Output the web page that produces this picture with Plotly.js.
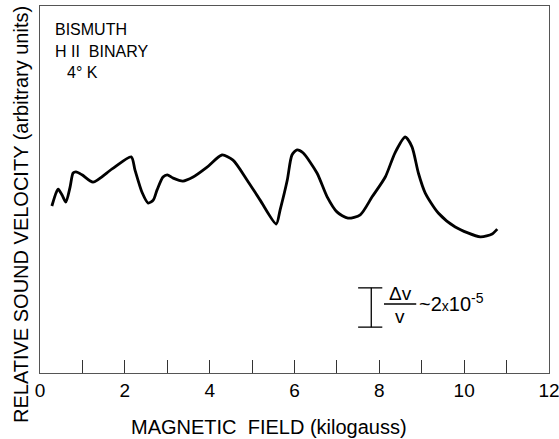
<!DOCTYPE html>
<html>
<head>
<meta charset="utf-8">
<script src="https://cdn.plot.ly/plotly-3.0.1.min.js"></script>
<style>html,body{margin:0;padding:0;background:#fff;}#chart{width:559px;height:439px;}</style>
</head>
<body>
<div id="chart"></div>
<script>
// Magnetic field (kilogauss)
const fieldKG = [0.28,0.38,0.43,0.52,0.61,0.71,0.78,0.85,0.99,1.25,1.70,2.15,2.24,2.41,2.55,2.67,2.76,2.90,3.00,3.14,3.37,3.61,3.94,4.29,4.55,4.88,5.19,5.57,5.66,5.83,5.94,6.06,6.20,6.53,6.77,7.00,7.26,7.55,7.83,8.14,8.37,8.61,8.77,8.92,9.08,9.39,9.79,10.38,10.66,10.78];
// Relative sound velocity (arbitrary units)
const velocity = [45.5,49.1,50.1,48.5,46.6,50.7,54.5,54.8,54.0,52.0,55.6,58.9,55.3,49.1,46.3,47.1,49.9,53.4,54.0,53.1,52.3,53.4,56.1,59.4,58.0,52.6,47.1,40.6,44.4,52.6,59.4,60.8,60.0,54.5,48.0,43.9,42.2,43.1,48.0,53.4,60.0,64.3,61.6,54.5,49.1,43.6,39.8,37.1,37.9,39.2];
const tickValues = [0,2,4,6,8,10,12];
const tickLabels = ['0','2','4','6','8','10','12'];

const F = 'Liberation Sans, Arial, sans-serif';
const trace = {
  x: fieldKG, y: velocity, type: 'scatter', mode: 'lines',
  line: {color: '#000', width: 2.8, shape: 'spline', smoothing: 0.7},
  hoverinfo: 'skip', showlegend: false
};
// paper-position helper (pixel -> paper fraction of the plot area)
const px = v => (v - 40) / 509;
const py = v => (373 - v) / 367;
const txt = (t, x, y, xa, size, angle) => ({text: t, x: px(x), y: py(y), xref: 'paper', yref: 'paper', xanchor: xa || 'left', yanchor: 'middle', showarrow: false, textangle: angle || 0, font: {family: F, size: size || 16, color: '#000'}});
const layout = {
  width: 559, height: 439,
  margin: {l: 40, r: 10, t: 6, b: 66},
  paper_bgcolor: '#fff', plot_bgcolor: '#fff',
  xaxis: {
    range: [0, 12], tickmode: 'array', tickvals: tickValues, ticktext: tickLabels,
    ticks: 'inside', ticklen: 13, tickwidth: 1, tickcolor: '#333',
    minor: {dtick: 1, tick0: 0, ticks: 'inside', ticklen: 13, tickwidth: 1, tickcolor: '#333', showgrid: false},
    ticklabeloverflow: 'allow',
    showline: true, linecolor: '#555', linewidth: 1, mirror: true,
    showgrid: false, zeroline: false,
    tickfont: {family: F, size: 19, color: '#000'}
  },
  yaxis: {
    range: [0, 100], showticklabels: false, ticks: '',
    showline: true, linecolor: '#555', linewidth: 1, mirror: true,
    showgrid: false, zeroline: false
  },
  annotations: [
    txt('BISMUTH', 53, 29),
    txt('H II  BINARY', 53, 52),
    txt('4° K', 65, 72),
    txt('MAGNETIC  FIELD (kilogauss)', 269, 427, 'center', 20),
    txt('RELATIVE SOUND VELOCITY (arbitrary units)', 21, 215, 'center', 20, -90),
    txt('Δv', 400, 293, 'center', 19),
    txt('v', 400, 316, 'center', 19),
    txt('~2<span style="font-size:14px">x</span>10<sup>-5</sup>', 417, 302, 'left', 20)
  ],
  shapes: [
    {type: 'line', xref: 'x', yref: 'y', x0: 7.81, x1: 7.81, y0: 23.2, y1: 12.5, line: {color: '#000', width: 1.3}},
    {type: 'line', xref: 'x', yref: 'y', x0: 7.5, x1: 8.07, y0: 23.2, y1: 23.2, line: {color: '#000', width: 1.3}},
    {type: 'line', xref: 'x', yref: 'y', x0: 7.5, x1: 8.07, y0: 12.5, y1: 12.5, line: {color: '#000', width: 1.3}},
    {type: 'line', xref: 'x', yref: 'y', x0: 8.11, x1: 8.87, y0: 18.8, y1: 18.8, line: {color: '#000', width: 1.5}}
  ]
};
Plotly.newPlot('chart', [trace], layout, {displayModeBar: false, staticPlot: true});
</script>
</body>
</html>
